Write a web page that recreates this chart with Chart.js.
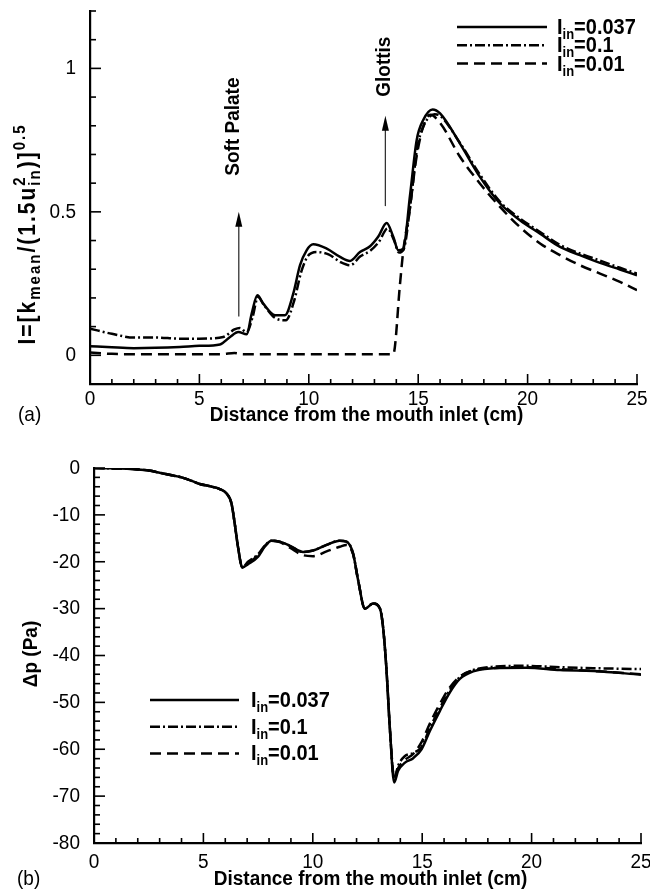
<!DOCTYPE html>
<html>
<head>
<meta charset="utf-8">
<script src="https://cdn.jsdelivr.net/npm/chart.js@4.4.1/dist/chart.umd.min.js"></script>
<style>
  html, body { margin: 0; padding: 0; background: #fff; }
  #wrap { position: relative; width: 650px; height: 889px; }
  canvas { position: absolute; left: 0; }
  #chartA { top: 0; }
  #chartB { top: 440px; }
</style>
</head>
<body>
<div id="wrap">
  <canvas id="chartA" width="650" height="440"></canvas>
  <canvas id="chartB" width="650" height="449"></canvas>
</div>
<script>
// ---- shared axis / legend text ----
const X_TICKS   = [0, 5, 10, 15, 20, 25];
const Y_TICKS_A = [0, 0.5, 1];
const Y_TICKS_B = [0, -10, -20, -30, -40, -50, -60, -70, -80];
const SERIES_IN = ['0.037', '0.1', '0.01'];

// ---- panel (a): turbulence intensity vs distance ----
const distA037 = [0, 1, 2, 3, 4.1, 5, 5.94, 6.4, 6.78, 7.16, 7.39, 7.65, 7.92, 8.46, 8.91, 9.29, 9.6, 9.9, 10.2,
  10.82, 11.43, 11.88, 12.34, 12.8, 13.17, 13.56, 13.86, 14.09, 14.32, 14.63, 14.93, 15.23, 15.66, 16.0,
  16.91, 17.82, 18.74, 19.65, 20.57, 21.48, 22.39, 23.31, 24.22, 25];
const intA037 = [0.032, 0.028, 0.025, 0.026, 0.029, 0.033, 0.038, 0.064, 0.081, 0.073, 0.145, 0.209, 0.18, 0.14, 0.14,
  0.215, 0.314, 0.366, 0.387, 0.372, 0.343, 0.329, 0.36, 0.38, 0.413, 0.461, 0.413, 0.366, 0.372, 0.56, 0.75,
  0.82, 0.857, 0.843, 0.738, 0.622, 0.529, 0.471, 0.424, 0.378, 0.349, 0.322, 0.299, 0.279];

const distA010 = [0, 1, 2, 3, 4.1, 5, 6.09, 6.6, 6.85, 7.16, 7.42, 7.68, 7.95, 8.46, 8.95, 9.33, 9.65, 9.95, 10.35,
  10.9, 11.45, 11.9, 12.36, 12.82, 13.2, 13.6, 13.9, 14.12, 14.34, 14.65, 14.95, 15.25, 15.75, 16.0,
  16.91, 17.82, 18.74, 19.65, 20.57, 21.48, 22.39, 23.31, 24.22, 25];
const intA010 = [0.093, 0.075, 0.062, 0.062, 0.058, 0.058, 0.064, 0.09, 0.095, 0.08, 0.13, 0.203, 0.175, 0.13, 0.122,
  0.19, 0.29, 0.345, 0.36, 0.352, 0.325, 0.314, 0.345, 0.365, 0.395, 0.442, 0.40, 0.358, 0.37, 0.53, 0.72,
  0.80, 0.84, 0.835, 0.74, 0.63, 0.535, 0.477, 0.43, 0.385, 0.355, 0.33, 0.305, 0.285];

const distA001 = [0, 1, 2, 4, 6, 6.6, 7.0, 8, 10, 12, 13.86, 14.17, 14.32, 14.6, 14.9, 15.2, 15.55, 16.0,
  16.91, 17.82, 18.74, 19.65, 20.57, 21.48, 22.39, 23.31, 24.22, 25];
const intA001 = [0.01, 0.005, 0.004, 0.004, 0.004, 0.008, 0.004, 0.004, 0.004, 0.004, 0.004, 0.25, 0.366, 0.5,
  0.68, 0.79, 0.838, 0.81, 0.692, 0.599, 0.517, 0.447, 0.39, 0.349, 0.314, 0.285, 0.256, 0.227];

// ---- panel (b): pressure drop vs distance ----
const distB = [0, 0.5, 1, 1.5, 2, 2.5, 3, 3.5, 4, 4.5, 4.83, 5.3, 5.75, 6.05, 6.28, 6.43, 6.58, 6.78, 7.04, 7.5,
  7.8, 8.11, 8.49, 8.95, 9.56, 10.01, 10.63, 11.23, 11.54, 11.84, 12.07, 12.38, 12.76, 13.07, 13.21, 13.37,
  13.52, 13.72, 13.9, 14.2, 14.59, 14.97, 15.35, 15.81, 16.26, 16.72, 17.33, 18.24, 19.77, 21.3, 22.82, 25];
const dpB037 = [0, -0.05, -0.1, -0.15, -0.3, -0.55, -1.0, -1.5, -2.0, -2.8, -3.4, -3.9, -4.5, -5.4, -7.5, -11.8,
  -16.8, -21.2, -20.5, -18.9, -16.8, -15.5, -15.7, -16.6, -17.9, -17.6, -16.4, -15.5, -15.7, -18.2, -23.9, -30,
  -28.9, -30, -33.9, -43.2, -55.4, -67.1, -64.6, -62.9, -61.9, -60, -56.1, -51.8, -47.9, -45, -43.4, -42.7,
  -42.6, -43.1, -43.3, -44.1];
const dpB010 = [0, -0.05, -0.1, -0.15, -0.3, -0.55, -1.0, -1.5, -2.0, -2.8, -3.4, -3.9, -4.5, -5.4, -7.5, -11.8,
  -16.8, -21.2, -20.0, -18.4, -16.6, -15.5, -15.7, -16.6, -17.9, -17.6, -16.4, -15.5, -15.7, -18.2, -23.9, -30,
  -28.9, -30, -33.9, -43.2, -55.4, -66.3, -63.5, -61.5, -60.8, -59.5, -55.5, -51.2, -47.4, -44.6, -43.1, -42.4,
  -42.2, -42.5, -42.7, -42.9];
const dpB001 = [0, -0.05, -0.1, -0.15, -0.3, -0.55, -1.0, -1.5, -2.0, -2.8, -3.4, -3.9, -4.5, -5.4, -7.5, -11.8,
  -16.8, -21.2, -20.3, -18.6, -16.7, -15.5, -15.8, -17.0, -18.6, -18.8, -17.8, -16.8, -16.4, -18.4, -23.9, -30,
  -28.9, -30, -33.9, -43.2, -55.4, -66.0, -64.0, -62.3, -61.0, -58.5, -54.5, -50.3, -46.8, -44.5, -43.2, -42.7,
  -42.5, -42.9, -43.3, -44.0];

const FONT = "'Liberation Sans', Arial, Helvetica, sans-serif";
const STRETCH = 1.1;            // source type is a little taller than Arial
const DASH = { solid: [], dashDot: [10, 3, 2, 3], dashed: [11, 6] };

function series(xs, ys, dash, sub) {
  return {
    label: 'I_in=' + sub,
    data: xs.map((x, i) => ({ x: x, y: ys[i] })),
    borderColor: '#000',
    borderWidth: 2.5,
    borderDash: dash,
    pointRadius: 0,
    cubicInterpolationMode: 'monotone',
    fill: false,
  };
}

// text drawn with a slight vertical stretch around (x, y)
function txt(ctx, s, x, y, font, align, base) {
  ctx.save();
  ctx.translate(x, y);
  ctx.scale(1, STRETCH);
  ctx.font = font;
  ctx.textAlign = align;
  ctx.textBaseline = base;
  ctx.fillText(s, 0, 0);
  ctx.restore();
}

// rich text: list of {t, s, dy} or {stack: [...]}
function richWidth(ctx, parts) {
  let w = 0;
  parts.forEach(p => {
    const items = p.stack || [p];
    w += Math.max(...items.map(q => { ctx.font = `bold ${q.s}px ${FONT}`; return ctx.measureText(q.t).width; }));
  });
  return w;
}
function drawRich(ctx, parts, x, y) {
  let cx = x;
  parts.forEach(p => {
    const items = p.stack || [p];
    let w = 0;
    items.forEach(q => {
      const f = `bold ${q.s}px ${FONT}`;
      txt(ctx, q.t, cx, y + (q.dy || 0), f, 'left', 'alphabetic');
      ctx.font = f;
      w = Math.max(w, ctx.measureText(q.t).width);
    });
    cx += w;
  });
}

function seg(ctx, x1, y1, x2, y2) {
  ctx.beginPath(); ctx.moveTo(x1, y1); ctx.lineTo(x2, y2); ctx.stroke();
}

// ---- plugin: inward ticks, tick labels, titles, legend, arrows ----
const inkPlugin = {
  id: 'ink',
  afterDraw(chart, args, o) {
    const { ctx, chartArea: a, scales: { x, y } } = chart;
    ctx.save();
    ctx.strokeStyle = '#000';
    ctx.fillStyle = '#000';
    ctx.lineWidth = 1.6;

    // x ticks, major every 5 cm, minor every 1 cm
    for (let k = 0; k <= 25; k++) {
      const px = x.getPixelForValue(k);
      seg(ctx, px, a.bottom, px, a.bottom - (k % 5 === 0 ? 10 : 5));
    }
    // y ticks
    for (let k = o.yK0; k <= o.yK1; k++) {
      const py = y.getPixelForValue(k * o.yStep);
      seg(ctx, a.left, py, a.left + (k % 5 === 0 ? 11 : 6), py);
    }

    // tick labels from the scales' own ticks
    const tf = `19px ${FONT}`;
    x.ticks.forEach(t => txt(ctx, String(t.value), x.getPixelForValue(t.value), a.bottom + o.xLabelDy, tf, 'center', 'middle'));
    y.ticks.forEach(t => txt(ctx, String(t.value), a.left - 14, y.getPixelForValue(t.value), tf, 'right', 'middle'));

    // x title and panel tag
    txt(ctx, 'Distance from the mouth inlet (cm)', (a.left + a.right) / 2 + 3, o.xTitleY, `bold 19px ${FONT}`, 'center', 'alphabetic');
    txt(ctx, o.tag, o.tagX, o.xTitleY, `19px ${FONT}`, 'left', 'alphabetic');

    // y title (rotated)
    ctx.save();
    ctx.translate(o.yTitleX, o.yTitleY);
    ctx.rotate(-Math.PI / 2);
    ctx.letterSpacing = o.yTitleSpacing || '0px';
    drawRich(ctx, o.yTitle, -richWidth(ctx, o.yTitle) / 2, 0);
    ctx.restore();

    // legend
    const L = o.legend;
    chart.data.datasets.forEach((ds, i) => {
      const ly = L.y + i * L.gap;
      ctx.lineWidth = 2.5;
      ctx.setLineDash(ds.borderDash);
      seg(ctx, L.x0, ly, L.x1, ly);
      ctx.setLineDash([]);
      drawRich(ctx, [{ t: 'I', s: 20 }, { t: 'in', s: 13, dy: 5 }, { t: '=' + SERIES_IN[i], s: 20 }], L.tx, ly + 7);
    });

    // arrows with rotated labels (data coordinates)
    (o.marks || []).forEach(m => {
      const px = x.getPixelForValue(m.x);
      const y0 = y.getPixelForValue(m.from);
      const y1 = y.getPixelForValue(m.to);
      ctx.lineWidth = 1.3;
      ctx.strokeStyle = '#333';
      seg(ctx, px, y0, px, y1 + 12);
      ctx.beginPath();
      ctx.moveTo(px, y1);
      ctx.lineTo(px - 3.5, y1 + 15);
      ctx.lineTo(px + 3.5, y1 + 15);
      ctx.closePath();
      ctx.fill();
      ctx.save();
      ctx.translate(x.getPixelForValue(m.textX), y.getPixelForValue(m.textY));
      ctx.rotate(-Math.PI / 2);
      txt(ctx, m.text, 0, 0, `bold 19px ${FONT}`, 'center', 'alphabetic');
      ctx.restore();
    });
    ctx.restore();
  }
};

function makeChart(id, datasets, cfg) {
  return new Chart(document.getElementById(id), {
    type: 'line',
    data: { datasets: datasets },
    options: {
      responsive: false,
      animation: false,
      devicePixelRatio: 1,
      layout: { padding: cfg.padding },
      plugins: { legend: { display: false }, tooltip: { enabled: false }, ink: cfg.ink },
      scales: {
        x: {
          type: 'linear', min: 0, max: 25,
          afterBuildTicks: s => { s.ticks = X_TICKS.map(v => ({ value: v })); },
          afterFit: s => { s.height = cfg.xHeight; },
          grid: { display: false, drawTicks: false },
          border: { display: true, color: '#000', width: 2.2 },
          ticks: { display: false }
        },
        y: {
          type: 'linear', min: cfg.yMin, max: cfg.yMax,
          afterBuildTicks: s => { s.ticks = cfg.yTicks.map(v => ({ value: v })); },
          afterFit: s => { s.width = cfg.yWidth; },
          grid: { display: false, drawTicks: false },
          border: { display: true, color: '#000', width: 2.2 },
          ticks: { display: false }
        }
      }
    },
    plugins: [inkPlugin]
  });
}

makeChart('chartA', [
  series(distA037, intA037, DASH.solid, SERIES_IN[0]),
  series(distA010, intA010, DASH.dashDot, SERIES_IN[1]),
  series(distA001, intA001, DASH.dashed, SERIES_IN[2]),
], {
  padding: { top: 11, right: 13, left: 0, bottom: 0 },
  xHeight: 56, yWidth: 90,
  yMin: -0.1, yMax: 1.2, yTicks: Y_TICKS_A,
  ink: {
    yK0: 0, yK1: 12, yStep: 0.1,
    xLabelDy: 15, xTitleY: 421, tag: '(a)', tagX: 18,
    yTitleX: 35, yTitleY: 234, yTitleSpacing: '2px',
    yTitle: [
      { t: 'I=[k', s: 21 }, { t: 'mean', s: 15, dy: 5 },
      { t: '/(1.5u', s: 21 },
      { stack: [{ t: 'in', s: 15, dy: 5 }, { t: '2', s: 15, dy: -10 }] },
      { t: ')]', s: 21 }, { t: '0.5', s: 15, dy: -10 }
    ],
    legend: { x0: 457, x1: 547, tx: 557, y: 27, gap: 18.3 },
    marks: [
      { x: 6.8, from: 0.135, to: 0.5, text: 'Soft Palate', textX: 6.8, textY: 0.797 },
      { x: 13.5, from: 0.52, to: 0.835, text: 'Glottis', textX: 13.7, textY: 1.006 }
    ]
  }
});

makeChart('chartB', [
  series(distB, dpB037, DASH.solid, SERIES_IN[0]),
  series(distB, dpB010, DASH.dashDot, SERIES_IN[1]),
  series(distB, dpB001, DASH.dashed, SERIES_IN[2]),
], {
  padding: { top: 28, right: 9, left: 0, bottom: 0 },
  xHeight: 46, yWidth: 94,
  yMin: -80, yMax: 0, yTicks: Y_TICKS_B,
  ink: {
    yK0: -40, yK1: 0, yStep: 2,
    xLabelDy: 19, xTitleY: 445, tag: '(b)', tagX: 17,
    yTitleX: 37, yTitleY: 214,
    yTitle: [{ t: '\u0394p (Pa)', s: 19 }],
    legend: { x0: 150, x1: 239, tx: 251, y: 260, gap: 26.7 },
    marks: []
  }
});
</script>
</body>
</html>
